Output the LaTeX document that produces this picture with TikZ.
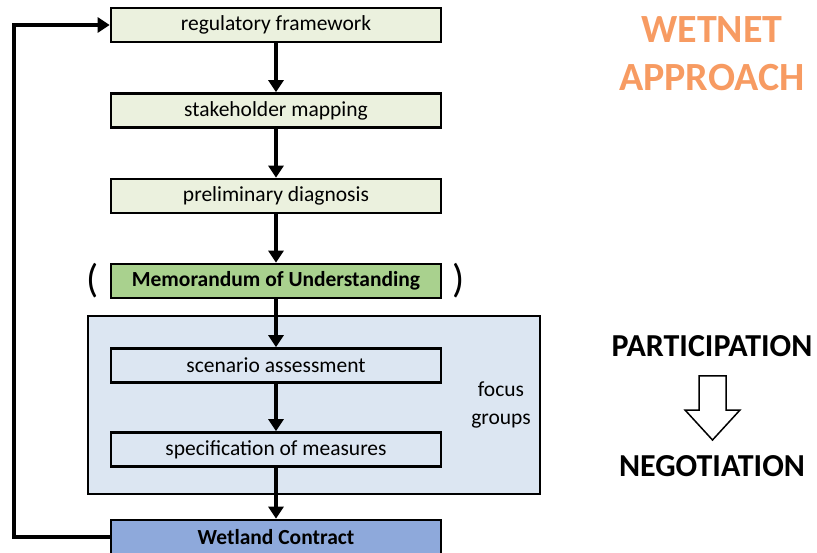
\documentclass[tikz,border=0pt]{standalone}
\usepackage{fontspec}
\setmainfont{Carlito}
\usetikzlibrary{arrows.meta}
\definecolor{lgreen}{HTML}{EBF1DE}
\definecolor{mgreen}{HTML}{A9D18E}
\definecolor{lblue}{HTML}{DCE6F2}
\definecolor{mblue}{HTML}{8EA9DB}
\definecolor{orng}{HTML}{F79B62}
\tikzset{
  stepbox/.style={draw=black, line width=2.6pt, minimum width=330pt, minimum height=34pt, inner sep=0pt, font=\fontsize{21.5}{24}\selectfont},
  flow/.style={line width=3.6pt, -{Triangle[width=15pt,length=12pt]}},
  big/.style={font=\bfseries\fontsize{32}{36}\selectfont}
}
\begin{document}
\begin{tikzpicture}[x=1pt,y=-1pt]
\useasboundingbox (0,0) rectangle (817,553);
\node[draw=black, line width=2.6pt, fill=lblue, minimum width=452pt, minimum height=178pt, inner sep=0pt] (panel) at (314,405) {};
\node[stepbox, fill=lgreen] (reg) at (276,25) {regulatory framework};
\node[stepbox, fill=lgreen] (stake) at (276,110.5) {stakeholder mapping};
\node[stepbox, fill=lgreen] (prel) at (276,196) {preliminary diagnosis};
\node[stepbox, fill=mgreen, font=\bfseries\fontsize{21.5}{24}\selectfont] (mou) at (276,281) {Memorandum of Understanding};
\node[stepbox, fill=lblue] (scen) at (276,365.5) {scenario assessment};
\node[stepbox, fill=lblue] (spec) at (276,449.5) {specification of measures};
\node[stepbox, fill=mblue, font=\bfseries\fontsize{21.5}{24}\selectfont] (wet) at (276,537) {Wetland Contract};
\node[font=\fontsize{40}{44}\selectfont] (lp) at (93,281) {(};
\node[font=\fontsize{40}{44}\selectfont] (rp) at (459,281) {)};
\node[font=\fontsize{21.5}{28}\selectfont, align=center] (fg) at (501,405) {focus\\groups};
\draw[flow] (reg) -- (stake);
\draw[flow] (stake) -- (prel);
\draw[flow] (prel) -- (mou);
\draw[flow] (mou) -- (scen);
\draw[flow] (scen) -- (spec);
\draw[flow] (spec) -- (wet);
\coordinate (c1) at (14,537);
\coordinate (c2) at (14,25);
\draw[flow, line join=miter] (wet.west) -- (c1) -- (c2) -- (reg.west);
\node[text=orng, font=\bfseries\fontsize{40}{48}\selectfont, align=center] (wa) at (712,54) {WETNET\\APPROACH};
\node[big] (part) at (712,346) {PARTICIPATION};
\node[big] (neg) at (712,466) {NEGOTIATION};
\draw[line width=1.5pt, fill=white, line join=miter] (699,376) -- (726,376) -- (726,410) -- (740,410) -- (712.5,440) -- (685,410) -- (699,410) -- cycle;
\end{tikzpicture}
\end{document}
